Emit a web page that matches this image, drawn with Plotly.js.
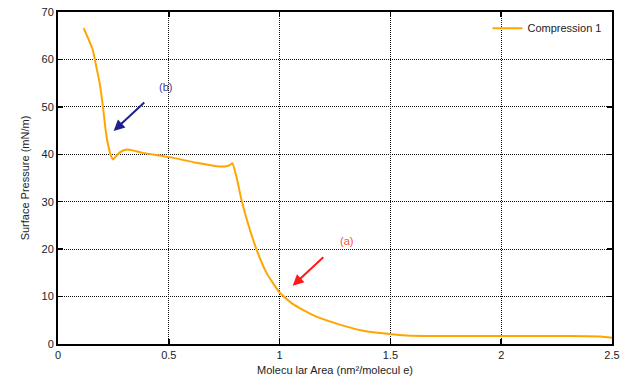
<!DOCTYPE html>
<html><head><meta charset="utf-8">
<script src="https://cdn.plot.ly/plotly-3.0.1.min.js"></script>
<style>html,body{margin:0;padding:0;background:#fff}#chart{width:620px;height:381px}</style>
</head><body><div id="chart"></div>
<script>
const seriesName = "Compression 1";
const area = [0.116,0.140,0.157,0.175,0.188,0.203,0.215,0.226,0.238,0.248,0.262,0.279,0.300,0.316,0.384,0.504,0.625,0.715,0.760,0.775,0.787,0.805,0.828,0.858,0.896,0.941,1.001,1.061,1.151,1.257,1.377,1.497,1.573,1.7,1.9,2.1,2.3,2.45,2.5];
const pressure = [66.6,64.0,62.0,58.0,55.0,50.0,45.1,42.0,39.8,38.9,39.6,40.4,40.9,41.0,40.3,39.4,38.2,37.5,37.5,37.7,38.1,35.3,30.4,25.3,19.9,15.0,10.8,8.4,6.1,4.3,2.8,2.1,1.8,1.7,1.7,1.7,1.7,1.6,1.3];
const xTicks = [0,0.5,1,1.5,2,2.5];
const xTickText = ["0","0.5","1","1.5","2","2.5"];
const yTicks = [0,10,20,30,40,50,60,70];
const annLabels = ["(b)","(a)"];
const annText = [[0.486,54.2],[1.303,21.8]];
const annHead = [[0.251,44.9],[1.059,12.3]];
const annTail = [[0.396,51.2],[1.204,18.6]];

const trace = {x: area, y: pressure, type:'scatter', mode:'lines', name: seriesName,
  line:{color:'#ffa500', width:2, shape:'spline', smoothing:0.5}};

const annColors = [['#1f1f8f','#3a3aa8'],['#ff1a1a','#ff4d4d']];
const annotations = [];
for (let i=0;i<annLabels.length;i++){
  annotations.push({x:annHead[i][0], y:annHead[i][1], ax:annTail[i][0], ay:annTail[i][1], axref:'x', ayref:'y', xref:'x', yref:'y', text:'', showarrow:true, arrowhead:2, arrowsize:1.1, arrowwidth:2, arrowcolor:annColors[i][0]});
  annotations.push({x:annText[i][0], y:annText[i][1], xref:'x', yref:'y', text:annLabels[i], showarrow:false, font:{family:'Liberation Sans, Arial', size:11, color:annColors[i][1]}});
}

const axisCommon = {showline:true, linecolor:'#000', linewidth:2, mirror:'ticks', ticks:'inside', ticklen:5, tickcolor:'#000', tickwidth:1.5,
  showgrid:true, gridcolor:'#111', griddash:'1px,1px', gridwidth:1, zeroline:false,
  tickfont:{family:'Liberation Sans, Arial', size:11, color:'#222'}};

const layout = {width:620, height:381, margin:{l:58, r:8, t:12, b:37}, paper_bgcolor:'#fff', plot_bgcolor:'#fff',
  showlegend:true,
  legend:{x:0.99, y:0.995, xanchor:'right', yanchor:'top', bgcolor:'rgba(0,0,0,0)', font:{family:'Liberation Sans, Arial', size:11, color:'#222'}},
  xaxis:Object.assign({}, axisCommon, {range:[0,2.5], tickvals:xTicks, ticktext:xTickText,
    title:{text:'Molecu lar Area (nm²/molecul e)', font:{family:'Liberation Sans, Arial', size:11, color:'#222'}, standoff:6}}),
  yaxis:Object.assign({}, axisCommon, {range:[0,70], tickvals:yTicks,
    title:{text:'Surface Pressure (mN/m)', font:{family:'Liberation Sans, Arial', size:11, color:'#222'}, standoff:10}}),
  annotations: annotations};

Plotly.newPlot('chart',[trace],layout,{displayModeBar:false, staticPlot:true});
</script></body></html>
